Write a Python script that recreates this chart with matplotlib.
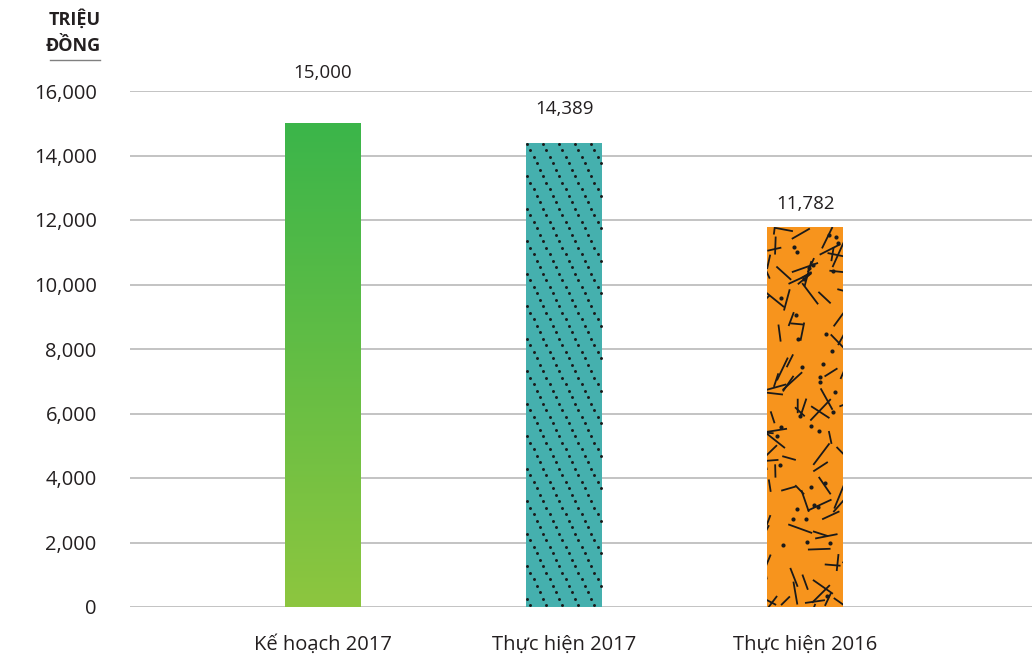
import numpy as np
import matplotlib
matplotlib.use("Agg")
import matplotlib.pyplot as plt
from matplotlib.colors import LinearSegmentedColormap
from matplotlib.patches import Rectangle

categories = ["Kế hoạch 2017", "Thực hiện 2017", "Thực hiện 2016"]
values = [15000, 14389, 11782]
value_labels = ["15,000", "14,389", "11,782"]
yticks = [0, 2000, 4000, 6000, 8000, 10000, 12000, 14000, 16000]

plt.rcParams["font.family"] = ["Open Sans", "DejaVu Sans"]

fig = plt.figure(figsize=(10.32, 6.57), dpi=100)
ax = fig.add_axes([130 / 1032, 1 - 607 / 657, 1 - 130 / 1032, (607 - 91) / 657])

x = np.arange(len(categories))
width = 0.315
ax.set_xlim(-0.8, 2.94)
ax.set_ylim(0, 16000)

ax.set_yticks(yticks)
ax.set_yticklabels([f"{v:,}" for v in yticks], fontsize=14.5, color="#231f20")
ax.tick_params(axis="y", length=0, pad=24)
ax.set_xticks(x)
ax.set_xticklabels(categories, fontsize=14.5, color="#231f20")
ax.tick_params(axis="x", length=0, pad=20)
ax.grid(axis="y", color="#b3b3b3", linewidth=1.1)
ax.set_axisbelow(True)
for s in ax.spines.values():
    s.set_visible(False)

bars = ax.bar(x, values, width=width, color=["none", "#45b0ae", "#f7941d"], zorder=2)

# green bar: vertical gradient clipped to the bar
green = LinearSegmentedColormap.from_list("g", ["#8dc63f", "#3bb54a"])
b0 = bars[0]
grad = np.linspace(0, 1, 256).reshape(-1, 1)
im = ax.imshow(grad, cmap=green, origin="lower", aspect="auto", zorder=2,
               extent=[b0.get_x(), b0.get_x() + b0.get_width(), 0, b0.get_height()])
im.set_clip_path(b0)
ax.set_xlim(-0.8, 2.94)
ax.set_ylim(0, 16000)

# teal bar: dots along steep diagonals
b1 = bars[1]
px_x = 0.315 / 76          # data units per pixel in x
px_y = 16000 / 516          # data units per pixel in y
dx, dy = [], []
for r in range(int(b1.get_height() / px_y / 6.5) + 2):
    for c in range(-2, 7):
        xx = b1.get_x() + (c * 16 + (r % 5) * 3.2 + 1) * px_x
        yy = b1.get_height() - (r * 6.5 + 1) * px_y
        if b1.get_x() <= xx <= b1.get_x() + b1.get_width() and yy >= 0:
            dx.append(xx)
            dy.append(yy)
ax.scatter(dx, dy, s=4.5, color="#1a1a1a", zorder=3, linewidths=0)

# orange bar: scattered sticks and dots
b2 = bars[2]
rng = np.random.default_rng(11)
clip = Rectangle((b2.get_x(), 0), b2.get_width(), b2.get_height(), transform=ax.transData)
n_px_h = b2.get_height() / px_y
for _ in range(int(n_px_h * 0.26)):
    cx = rng.uniform(-6, 82)
    cy = rng.uniform(-6, n_px_h + 6)
    ang = rng.uniform(0, np.pi)
    ln = rng.uniform(12, 30)
    xs = b2.get_x() + (cx + np.array([-1, 1]) * np.cos(ang) * ln / 2) * px_x
    ys = (cy + np.array([-1, 1]) * np.sin(ang) * ln / 2) * px_y
    l, = ax.plot(xs, ys, color="#1a1a1a", linewidth=1.3, zorder=3, solid_capstyle="butt")
    l.set_clip_path(clip)
sx = b2.get_x() + rng.uniform(3, 73, int(n_px_h * 0.1)) * px_x
sy = rng.uniform(3, n_px_h - 3, len(sx)) * px_y
ax.scatter(sx, sy, s=9, color="#1a1a1a", zorder=3, linewidths=0)

# value labels, offset above each bar in points
label_offsets = [30, 18, 10]
for b, lab, off in zip(bars, value_labels, label_offsets):
    ax.annotate(lab, (b.get_x() + b.get_width() / 2, b.get_height()),
                xytext=(0, off), textcoords="offset points",
                ha="center", va="bottom", fontsize=13.5, color="#231f20",
                annotation_clip=False)

fig.text(101 / 1032, 1 - 19 / 657, "TRIỆU", ha="right", va="center",
         fontsize=13, fontweight="bold", color="#231f20", fontstretch="condensed")
fig.text(101 / 1032, 1 - 46 / 657, "ĐỒNG", ha="right", va="center",
         fontsize=13, fontweight="bold", color="#231f20", fontstretch="condensed")
fig.add_artist(plt.Line2D([50 / 1032, 100 / 1032], [1 - 60 / 657] * 2,
                          color="#808080", linewidth=1, transform=fig.transFigure))

fig.savefig("out.png", dpi=100)
